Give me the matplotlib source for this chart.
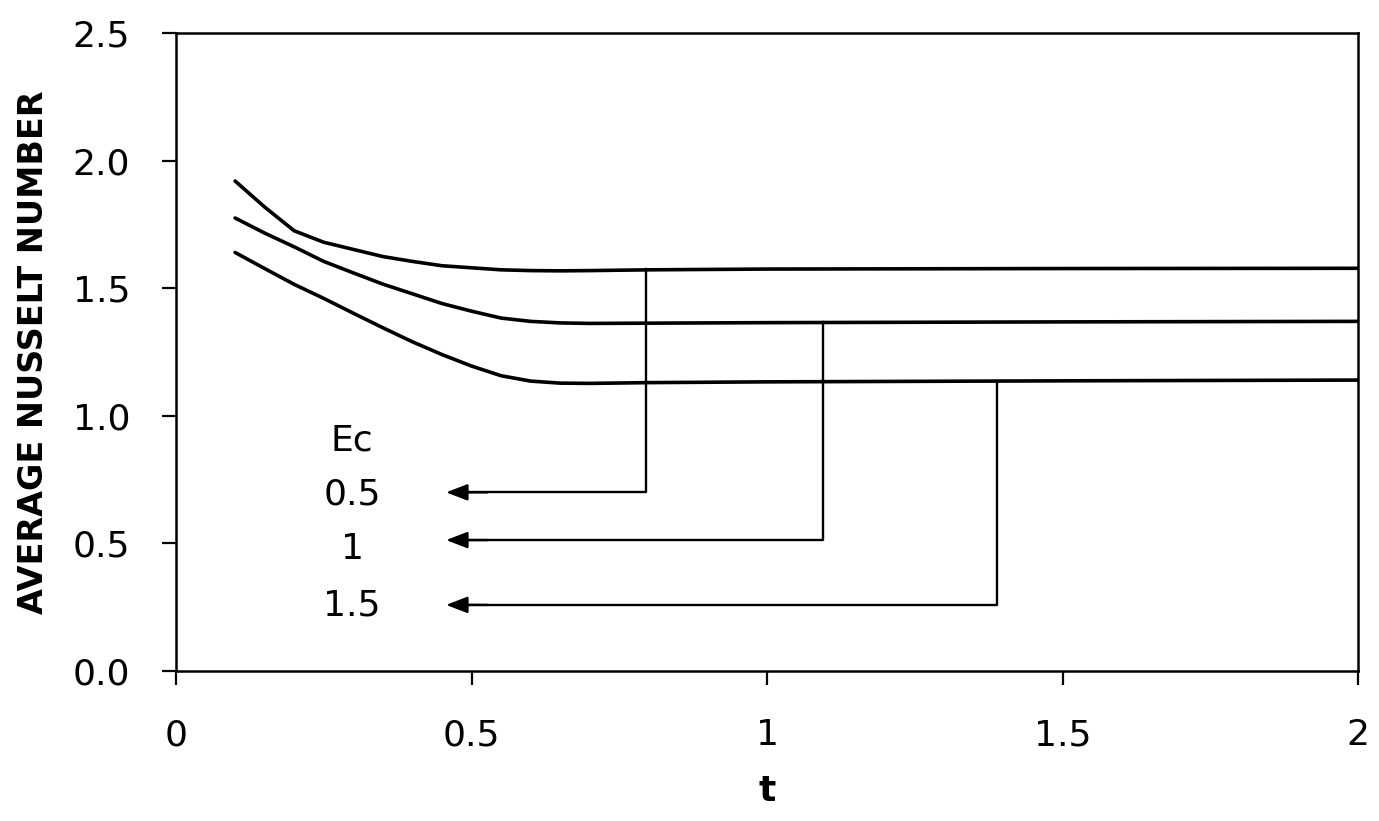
import matplotlib
matplotlib.use("Agg")
import matplotlib.pyplot as plt

# ---- data ----
t = [0.1, 0.15, 0.2, 0.25, 0.3, 0.35, 0.4, 0.45, 0.5, 0.55, 0.6, 0.65, 0.7, 0.8, 1.0, 1.5, 2.0]
nu_ec05 = [1.92, 1.818, 1.725, 1.680, 1.652, 1.624, 1.605, 1.588, 1.580, 1.572, 1.569, 1.568, 1.569, 1.572, 1.575, 1.577, 1.578]
nu_ec10 = [1.775, 1.716, 1.662, 1.605, 1.560, 1.516, 1.478, 1.440, 1.410, 1.383, 1.370, 1.364, 1.362, 1.363, 1.365, 1.368, 1.370]
nu_ec15 = [1.64, 1.577, 1.515, 1.460, 1.402, 1.345, 1.290, 1.240, 1.195, 1.157, 1.136, 1.128, 1.127, 1.130, 1.133, 1.137, 1.140]

ec_labels = ["0.5", "1", "1.5"]
pointer_x = [0.795, 1.095, 1.389]      # t where each leader line leaves its curve
pointer_from = [1.577, 1.366, 1.137]   # curve level at leader
pointer_y = [0.70, 0.513, 0.259]       # arrow level
arrow_tip_x = 0.457
label_x = 0.298
label_y = [0.69, 0.48, 0.255]
title_y = 0.905

xticks = [0, 0.5, 1, 1.5, 2]
xtick_labels = ["0", "0.5", "1", "1.5", "2"]
yticks = [0.0, 0.5, 1.0, 1.5, 2.0, 2.5]
ytick_labels = ["0.0", "0.5", "1.0", "1.5", "2.0", "2.5"]

plt.rcParams['font.family'] = ['DejaVu Sans']

fig = plt.figure(figsize=(13.79, 8.21), dpi=100)
ax = fig.add_axes([176/1379, 1-671/821, (1358-176)/1379, (671-33)/821])

for ys in (nu_ec05, nu_ec10, nu_ec15):
    ax.plot(t, ys, color='black', lw=2.6, solid_joinstyle='round', solid_capstyle='round')

for px, pf, py in zip(pointer_x, pointer_from, pointer_y):
    ax.plot([px, px, arrow_tip_x + 0.02], [pf, py, py], color='black', lw=1.7)
    ax.annotate("", xy=(arrow_tip_x, py), xytext=(arrow_tip_x + 0.07, py),
                arrowprops=dict(arrowstyle='-|>,head_length=1.3,head_width=0.5',
                                color='black', lw=1.7, shrinkA=0, shrinkB=0))

fs = 26
ax.text(label_x, title_y, "Ec", ha='center', va='center', fontsize=fs)
for lab, ly in zip(ec_labels, label_y):
    ax.text(label_x, ly, lab, ha='center', va='center', fontsize=fs)

ax.set_xlim(0, 2)
ax.set_ylim(0, 2.5)
ax.set_xticks(xticks)
ax.set_xticklabels(xtick_labels)
ax.set_yticks(yticks)
ax.set_yticklabels(ytick_labels)
ax.tick_params(axis='both', direction='out', length=10, width=1.6, labelsize=fs)
ax.tick_params(axis='y', pad=23)
ax.tick_params(axis='x', pad=24)
for s in ax.spines.values():
    s.set_linewidth(1.8)
    s.set_color('black')

ax.set_xlabel("t", fontsize=fs, fontweight='bold', labelpad=16)
ax.set_ylabel("AVERAGE NUSSELT NUMBER", fontsize=24, fontweight='bold', labelpad=16)

fig.savefig("out.png", dpi=100, facecolor='white')
